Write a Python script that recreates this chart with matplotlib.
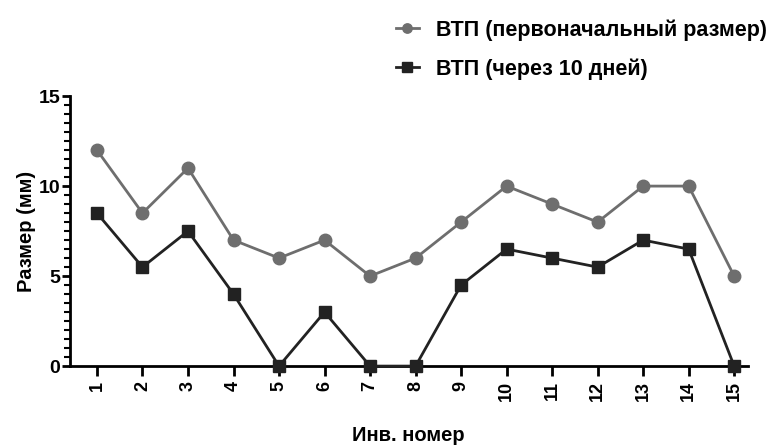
import numpy as np
import matplotlib.pyplot as plt
from matplotlib.ticker import MultipleLocator

plt.rcParams['font.family'] = ['Liberation Sans', 'DejaVu Sans']
plt.rcParams['font.weight'] = 'bold'

nums = list(range(1, 16))
initial = [12, 8.5, 11, 7, 6, 7, 5, 6, 8, 10, 9, 8, 10, 10, 5]
after10 = [8.5, 5.5, 7.5, 4, 0, 3, 0, 0, 4.5, 6.5, 6, 5.5, 7, 6.5, 0]

fig = plt.figure(figsize=(7.79, 4.47), dpi=100)
ax = fig.add_axes([0.090, 0.181, 0.870, 0.604])

ax.plot(nums, initial, color='#6e6e6e', marker='o', markersize=9, lw=2,
        label='ВТП (первоначальный размер)', clip_on=False, zorder=3)
ax.plot(nums, after10, color='#222222', marker='s', markersize=9, lw=2,
        label='ВТП (через 10 дней)', clip_on=False, zorder=4)

ax.set_xlim(0.41, 15.3)
ax.set_ylim(0, 15)
ax.set_xticks(nums)
ax.set_xticklabels([str(n) for n in nums], rotation=90, fontsize=13, fontweight='bold')
ax.yaxis.set_major_locator(MultipleLocator(5))
ax.yaxis.set_minor_locator(MultipleLocator(0.5))
ax.tick_params(axis='y', labelsize=14, width=2, length=6, pad=1)
ax.tick_params(axis='y', which='minor', width=1.5, length=4)
ax.tick_params(axis='x', width=2, length=7)
for lab in ax.get_yticklabels():
    lab.set_fontweight('bold')

for s in ['top', 'right']:
    ax.spines[s].set_visible(False)
for s in ['left', 'bottom']:
    ax.spines[s].set_linewidth(2)

ax.set_ylabel('Размер (мм)', fontsize=14.5, fontweight='bold', labelpad=2)
fig.text(0.524, 0.005, 'Инв. номер', fontsize=14.5, fontweight='bold', ha='center', va='bottom')

fig.legend(loc='upper right', bbox_to_anchor=(1.01, 1.0), frameon=False,
           handlelength=1.1, handletextpad=0.8, markerscale=0.75, labelspacing=0.8,
           prop={'weight': 'bold', 'size': 15.5})

fig.savefig('out.png', dpi=100)
